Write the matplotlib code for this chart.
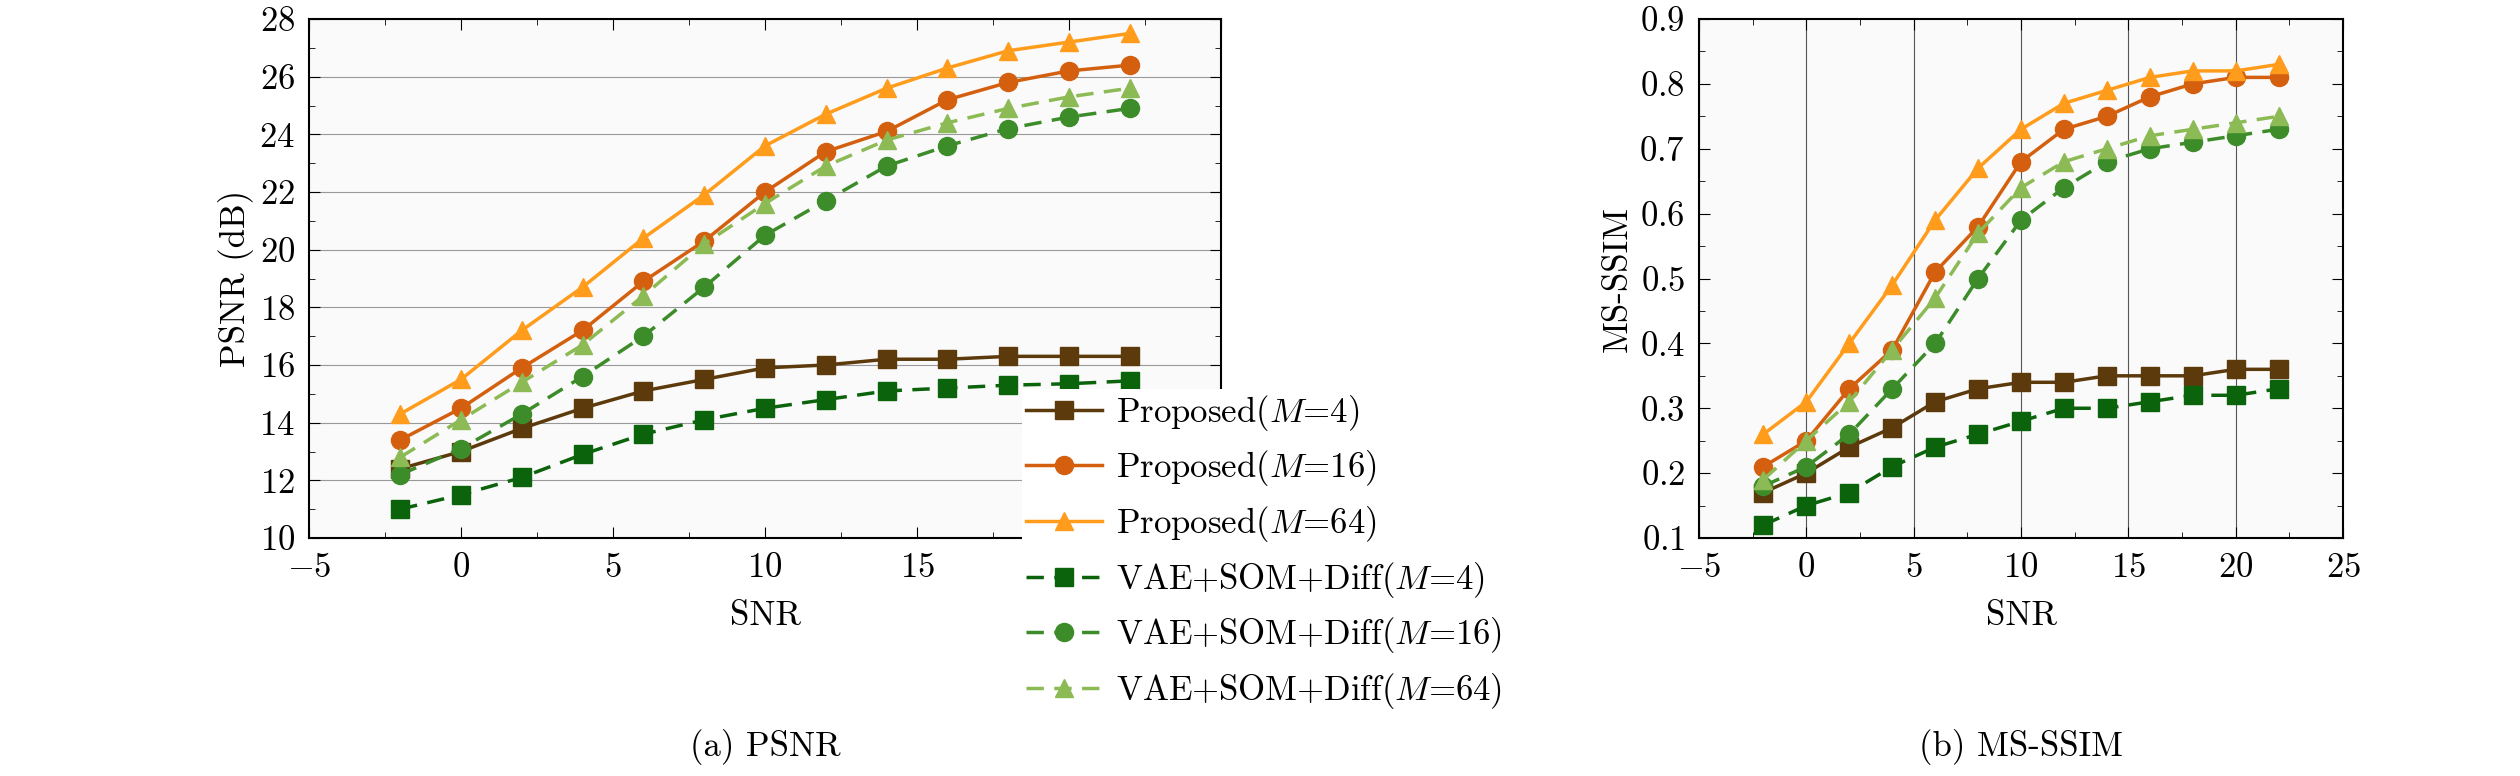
import matplotlib
matplotlib.use("Agg")
import matplotlib.pyplot as plt
from matplotlib.ticker import AutoMinorLocator

plt.rcParams['font.family'] = 'serif'
plt.rcParams['font.serif'] = ['cmr10']
plt.rcParams['mathtext.fontset'] = 'cm'
plt.rcParams['axes.formatter.use_mathtext'] = True

snr = [-2, 0, 2, 4, 6, 8, 10, 12, 14, 16, 18, 20, 22]

psnr_p4 = [12.4, 13.0, 13.8, 14.5, 15.1, 15.5, 15.9, 16.0, 16.2, 16.2, 16.3, 16.3, 16.3]
psnr_p16 = [13.4, 14.5, 15.9, 17.2, 18.9, 20.3, 22.0, 23.4, 24.1, 25.2, 25.8, 26.2, 26.4]
psnr_p64 = [14.3, 15.5, 17.2, 18.7, 20.4, 21.9, 23.6, 24.7, 25.6, 26.3, 26.9, 27.2, 27.5]
psnr_v4 = [11.0, 11.5, 12.1, 12.9, 13.6, 14.1, 14.5, 14.8, 15.1, 15.2, 15.3, 15.35, 15.45]
psnr_v16 = [12.2, 13.1, 14.3, 15.6, 17.0, 18.7, 20.5, 21.7, 22.9, 23.6, 24.2, 24.6, 24.9]
psnr_v64 = [12.8, 14.1, 15.4, 16.7, 18.4, 20.2, 21.6, 22.9, 23.8, 24.4, 24.9, 25.3, 25.6]

ssim_p4 = [0.17, 0.20, 0.24, 0.27, 0.31, 0.33, 0.34, 0.34, 0.35, 0.35, 0.35, 0.36, 0.36]
ssim_p16 = [0.21, 0.25, 0.33, 0.39, 0.51, 0.58, 0.68, 0.73, 0.75, 0.78, 0.80, 0.81, 0.81]
ssim_p64 = [0.26, 0.31, 0.40, 0.49, 0.59, 0.67, 0.73, 0.77, 0.79, 0.81, 0.82, 0.82, 0.83]
ssim_v4 = [0.12, 0.15, 0.17, 0.21, 0.24, 0.26, 0.28, 0.30, 0.30, 0.31, 0.32, 0.32, 0.33]
ssim_v16 = [0.18, 0.21, 0.26, 0.33, 0.40, 0.50, 0.59, 0.64, 0.68, 0.70, 0.71, 0.72, 0.73]
ssim_v64 = [0.19, 0.25, 0.31, 0.39, 0.47, 0.57, 0.64, 0.68, 0.70, 0.72, 0.73, 0.74, 0.75]

labels = ["Proposed($M$=4)", "Proposed($M$=16)", "Proposed($M$=64)",
          "VAE+SOM+Diff($M$=4)", "VAE+SOM+Diff($M$=16)", "VAE+SOM+Diff($M$=64)"]
colors = ['#5c3a0c', '#d4600f', '#ff9c1c', '#0b640b', '#3d8c2a', '#8cba55']
markers = ['s', 'o', '^', 's', 'o', '^']
styles = ['-', '-', '-', (0, (5, 3)), (0, (5, 3)), (0, (5, 3))]

fig = plt.figure(figsize=(25.2, 7.76), dpi=100)
ax1 = fig.add_axes([309/2520, 1 - 538/776, 912/2520, 519/776])
ax2 = fig.add_axes([1699/2520, 1 - 538/776, 644/2520, 519/776])

handles = []
for ax, series in [(ax1, [psnr_p4, psnr_p16, psnr_p64, psnr_v4, psnr_v16, psnr_v64]),
                   (ax2, [ssim_p4, ssim_p16, ssim_p64, ssim_v4, ssim_v16, ssim_v64])]:
    ax.set_facecolor('#fafafa')
    hs = []
    for y, c, m, ls, lab in zip(series, colors, markers, styles, labels):
        h, = ax.plot(snr, y, color=c, marker=m, linestyle=ls, linewidth=2.5,
                     markersize=13, label=lab)
        hs.append(h)
    handles = hs
    ax.set_xlim(-5, 25)
    ax.set_xticks(range(-5, 26, 5))
    ax.xaxis.set_minor_locator(AutoMinorLocator(2))
    ax.yaxis.set_minor_locator(AutoMinorLocator(2))
    ax.tick_params(which='both', direction='in', top=True, right=True, labelsize=25, pad=10)
    ax.tick_params(which='major', length=8)
    ax.tick_params(which='minor', length=4)
    ax.set_xlabel("SNR", fontsize=25, labelpad=12)
    for s in ax.spines.values():
        s.set_linewidth(1.5)

ax1.set_ylim(10, 28)
ax1.set_yticks(range(10, 29, 2))
ax1.grid(axis='y', color='#999999', linewidth=0.8)
ax1.set_ylabel("PSNR (dB)", fontsize=25)

ax2.set_ylim(0.1, 0.9)
ax2.set_yticks([0.1, 0.2, 0.3, 0.4, 0.5, 0.6, 0.7, 0.8, 0.9])
ax2.grid(axis='x', color='#555555', linewidth=0.8)
ax2.set_ylabel("MS-SSIM", fontsize=25)

fig.text((309 + 912/2)/2520, 1 - 747/776, "(a) PSNR", fontsize=25, ha='center', va='center')
fig.text((1699 + 644/2)/2520, 1 - 747/776, "(b) MS-SSIM", fontsize=25, ha='center', va='center')

leg = fig.legend(handles, labels, loc='upper left', bbox_to_anchor=(1005/2520, 1 - 372/776),
                 frameon=True, fontsize=25, handlelength=2.2, labelspacing=0.45,
                 borderpad=0.1, handletextpad=0.4, fancybox=False)
leg.get_frame().set_facecolor('white')
leg.get_frame().set_edgecolor('none')
leg.get_frame().set_alpha(1)

fig.savefig("out.png", dpi=100)
